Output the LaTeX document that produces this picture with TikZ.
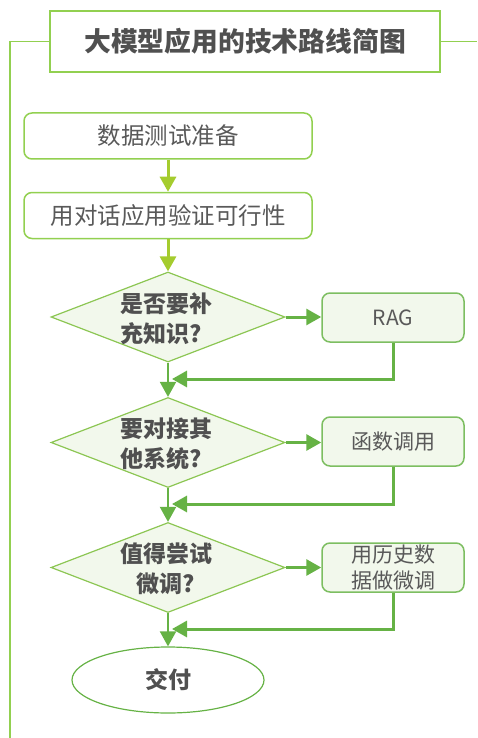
\documentclass[tikz,border=0pt]{standalone}
\usepackage{fontspec}
\setmainfont{Noto Sans CJK SC}
\usetikzlibrary{arrows.meta,shapes.geometric}
\definecolor{lime}{HTML}{92D050}
\definecolor{ygreen}{HTML}{A5CC2E}
\definecolor{dgreen}{HTML}{66B245}
\definecolor{dborder}{HTML}{8CC653}
\definecolor{dfill}{HTML}{F2F8EC}
\definecolor{txt}{HTML}{595959}
\definecolor{btxt}{HTML}{505050}
\begin{document}
\begin{tikzpicture}[x=1pt,y=-1pt,
  titlebox/.style={draw=lime, line width=2pt, minimum width=390pt, minimum height=61pt, inner sep=0pt, font=\bfseries\fontsize{26.8}{32}\selectfont, text=btxt},
  procbox/.style={draw=lime, line width=1.5pt, rounded corners=8pt, minimum width=288pt, minimum height=46pt, inner sep=0pt, font=\fontsize{23.5}{28}\selectfont, text=txt},
  dia/.style={diamond, draw=dborder, fill=dfill, line width=1.2pt, minimum width=234pt, minimum height=90pt, inner sep=0pt},
  dtext/.style={font=\bfseries\fontsize{23}{30}\selectfont, text=btxt, inner sep=0pt},
  sidebox/.style={draw=dgreen!85!white, fill=dfill, line width=1.5pt, rounded corners=8pt, minimum width=142pt, minimum height=49pt, inner sep=0pt, font=\fontsize{21}{26}\selectfont, text=txt, align=center},
  endnode/.style={ellipse, draw=dgreen, line width=1.2pt, minimum width=192pt, minimum height=66pt, inner sep=0pt, font=\bfseries\fontsize{23}{28}\selectfont, text=btxt},
  yarrow/.style={draw=ygreen, line width=3pt, -{Triangle[length=15pt,width=16pt]}},
  garrow/.style={draw=dgreen, line width=3pt, -{Triangle[length=15pt,width=16pt]}},
  varrow/.style={draw=dgreen, line width=2pt, -{Triangle[length=15pt,width=16pt]}},
  frame/.style={draw=lime, line width=1.5pt}]
\useasboundingbox (0,0) rectangle (477,738);

\node[titlebox] (title) at (245,41.5) {大模型应用的技术路线简图};
\draw[frame] (title.west) -- (10,41.5) -- (10,738);
\draw[frame] (title.east) -- (477,41.5);

\node[procbox] (b1) at (168,136) {数据测试准备};
\node[procbox] (b2) at (168,215.5) {用对话应用验证可行性};

\node[dia] (d1) at (168,317) {};
\node[dtext, align=left] (d1t) at (166,319) {是否要补\\充知识?};
\node[sidebox] (s1) at (393,317.5) {RAG};

\node[dia] (d2) at (168,442.5) {};
\node[dtext, align=left] (d2t) at (166,444) {要对接其\\他系统?};
\node[sidebox] (s2) at (393,441.5) {函数调用};

\node[dia] (d3) at (168,567.5) {};
\node[dtext, align=center] (d3t) at (166,569) {值得尝试\\微调?};
\node[sidebox] (s3) at (393,567.5) {用历史数\\据做微调};

\node[endnode] (e) at (168,680) {交付};

\coordinate (r1) at (172,379);
\coordinate (r2) at (172,504);
\coordinate (r3) at (172,629);

\draw[yarrow] (b1) -- (b2);
\draw[yarrow] (b2) -- (d1.north);

\draw[garrow] (d1.east) -- (d1.east -| s1.west);
\draw[varrow] (d1.south) -- (d2.north);
\draw[garrow] (s1.south) |- (r1);

\draw[garrow] (d2.east) -- (d2.east -| s2.west);
\draw[varrow] (d2.south) -- (d3.north);
\draw[garrow] (s2.south) |- (r2);

\draw[garrow] (d3.east) -- (d3.east -| s3.west);
\draw[varrow] (d3.south) -- (e.north);
\draw[garrow] (s3.south) |- (r3);
\end{tikzpicture}
\end{document}
